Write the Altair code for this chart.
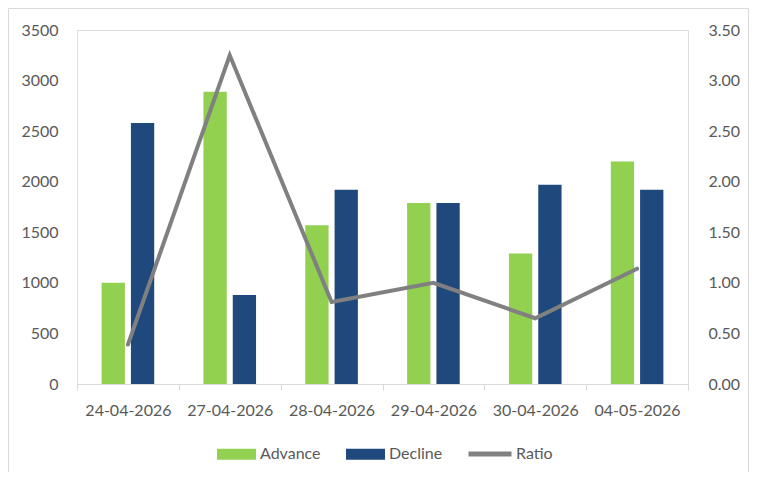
import altair as alt
import pandas as pd

dates = ["24-04-2026", "27-04-2026", "28-04-2026", "29-04-2026", "30-04-2026", "04-05-2026"]
advance = [1000, 2890, 1570, 1790, 1290, 2200]
decline = [2580, 880, 1920, 1790, 1970, 1920]
ratio = [0.39, 3.25, 0.81, 1.00, 0.65, 1.14]
series = ["Advance", "Decline"]
left_ticks = [0, 500, 1000, 1500, 2000, 2500, 3000, 3500]
right_ticks = [0.0, 0.5, 1.0, 1.5, 2.0, 2.5, 3.0, 3.5]

W, H = 611, 354
FONT = "Lato"
TXT = "#595959"

bars_df = pd.DataFrame({
    "date": dates * 2,
    "series": ["Advance"] * len(dates) + ["Decline"] * len(dates),
    "value": advance + decline,
})
ratio_df = pd.DataFrame({"date": dates, "series": ["Ratio"] * len(dates), "ratio": ratio})

x_enc = alt.X(
    "date:N", sort=dates,
    scale=alt.Scale(paddingInner=0, paddingOuter=0),
    axis=alt.Axis(title=None, labelAngle=0, tickBand="extent", ticks=True, tickSize=6,
                  tickColor="#d9d9d9", domainColor="#d9d9d9", grid=False,
                  labelPadding=12, labelFontSize=16, labelColor=TXT, labelFont=FONT),
)

bars = alt.Chart(bars_df).mark_bar().encode(
    x=x_enc,
    xOffset=alt.XOffset("series:N", sort=series,
                        scale=alt.Scale(paddingInner=0.205, paddingOuter=0.84)),
    y=alt.Y("value:Q", scale=alt.Scale(domain=[0, 3500], nice=False),
            axis=alt.Axis(values=left_ticks, format="d", title=None, domain=False, ticks=False,
                          grid=False, labelPadding=19, labelFontSize=16, labelColor=TXT,
                          labelFont=FONT)),
    fill=alt.Fill("series:N", sort=series,
                  scale=alt.Scale(domain=series, range=["#92D050", "#1F497D"]),
                  legend=alt.Legend(title=None, orient="none", direction="horizontal",
                                    legendX=140, legendY=404.5,
                                    symbolType="M-1,-0.28H1V0.28H-1Z", symbolSize=1521,
                                    symbolStrokeWidth=0, labelOffset=4, columnPadding=25,
                                    labelFontSize=16, labelColor=TXT, labelFont=FONT)),
)

line = alt.Chart(ratio_df).mark_line(strokeWidth=4, strokeCap="round").encode(
    x=alt.X("date:N", sort=dates),
    y=alt.Y("ratio:Q", scale=alt.Scale(domain=[0, 3.5], nice=False),
            axis=alt.Axis(orient="right", values=right_ticks, format=".2f", title=None,
                          domain=False, ticks=False, grid=False, labelPadding=20,
                          labelFontSize=16, labelColor=TXT, labelFont=FONT)),
    stroke=alt.Stroke("series:N",
                      scale=alt.Scale(domain=["Ratio"], range=["#808080"]),
                      legend=alt.Legend(title=None, orient="none", direction="horizontal",
                                        legendX=389, legendY=400,
                                        symbolType="stroke", symbolSize=1849,
                                        symbolStrokeWidth=5, labelOffset=2,
                                        labelFontSize=16, labelColor=TXT, labelFont=FONT)),
)

frame = alt.Chart(alt.Data(values=[{}])).mark_rect(
    fillOpacity=0, stroke="#d9d9d9", strokeWidth=1
).encode(
    x=alt.value(-68.5), x2=alt.value(W + 60.5),
    y=alt.value(-21.5), y2=alt.value(H + 200),
)

chart = alt.layer(frame, bars, line).resolve_scale(y="independent").properties(
    width=W, height=H,
    autosize=alt.AutoSizeParams(type="none"),
    padding={"left": 69, "top": 22, "right": 61, "bottom": 88},
).configure_view(stroke=None).configure(font=FONT)

chart.save("out.html", embed_options={"renderer": "svg", "actions": False})
